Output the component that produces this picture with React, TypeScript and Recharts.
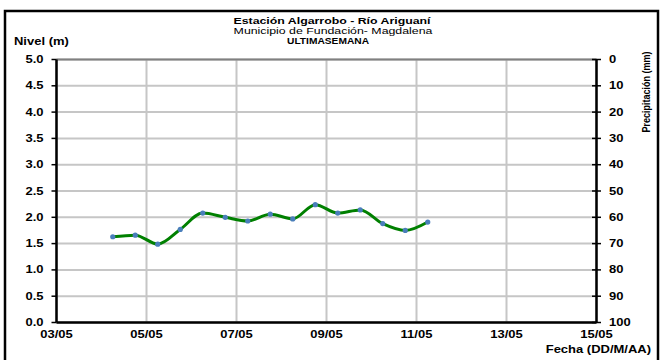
import { LineChart, Line, XAxis, YAxis, CartesianGrid, ReferenceLine } from "recharts";

// lecturas cada 12 horas (DD/MM HH:mm)
const fechas = [
  "04/05 06:00", "04/05 18:00", "05/05 06:00", "05/05 18:00", "06/05 06:00",
  "06/05 18:00", "07/05 06:00", "07/05 18:00", "08/05 06:00", "08/05 18:00",
  "09/05 06:00", "09/05 18:00", "10/05 06:00", "10/05 18:00", "11/05 06:00",
];
const nivel = [1.63, 1.66, 1.49, 1.77, 2.08, 2.0, 1.93, 2.06, 1.97, 2.24, 2.08, 2.14, 1.88, 1.75, 1.91];

const fechaTicks = ["03/05", "05/05", "07/05", "09/05", "11/05", "13/05", "15/05"];
const nivelTicks = [0, 0.5, 1, 1.5, 2, 2.5, 3, 3.5, 4, 4.5, 5];
const lluviaTicks = [0, 10, 20, 30, 40, 50, 60, 70, 80, 90, 100];

const FONT = "'Liberation Sans', Arial, sans-serif";
const SX = 1.3; // el grafico original esta estirado a lo ancho

const toDay = (s: string) => {
  const [d, hm] = [s.split("/")[0], s.split(" ")[1]];
  let v = parseInt(d, 10);
  if (hm) {
    const [h, m] = hm.split(":").map(Number);
    v += (h + m / 60) / 24;
  }
  return v;
};

const data = fechas.map((f, i) => ({ t: toDay(f), nivel: nivel[i] }));

const SText = ({ x, y, anchor = "middle", size = 10, bold = true, len, children }: any) => (
  <text
    transform={`translate(${x},${y}) scale(${SX},1)`}
    textAnchor={anchor}
    fontSize={size}
    fontWeight={bold ? 700 : 400}
    fontFamily={FONT}
    fill="#000"
    textLength={len}
    lengthAdjust={len ? "spacingAndGlyphs" : undefined}
  >
    {children}
  </text>
);

const LeftTick = ({ x, y, payload }: any) => (
  <SText x={x} y={y + 3.5} anchor="end">
    {Number(payload.value).toFixed(1)}
  </SText>
);

const RightTick = ({ x, y, payload }: any) => (
  <g>
    <line x1={x - 4.5} x2={x + 4.5} y1={y} y2={y} stroke="#000" strokeWidth={1.5} />
    <SText x={x + 12.5} y={y + 3.5} anchor="start">
      {payload.value}
    </SText>
  </g>
);

const BottomTick = ({ x, y, payload }: any) => (
  <SText x={x} y={y + 15}>
    {fechaTicks.find((f) => toDay(f) === payload.value)}
  </SText>
);

export default function App() {
  return (
    <div style={{ position: "absolute", left: 0, top: 0, width: 661, height: 360, background: "#fff" }}>
      <LineChart
        width={661}
        height={360}
        data={data}
        margin={{ top: 59.5, right: 0, bottom: 17.5, left: 0 }}
      >
        <CartesianGrid yAxisId="left" stroke="#c6c6c6" strokeWidth={2} />
        <XAxis
          dataKey="t"
          type="number"
          domain={[toDay(fechaTicks[0]), toDay(fechaTicks[fechaTicks.length - 1])]}
          ticks={fechaTicks.map(toDay)}
          height={20}
          tickLine={false}
          tickSize={0}
          tickMargin={0}
          axisLine={{ stroke: "#000", strokeWidth: 2.5 }}
          tick={<BottomTick />}
        />
        <YAxis
          yAxisId="left"
          domain={[0, 5]}
          ticks={nivelTicks}
          width={56.5}
          tickSize={5}
          tickMargin={8}
          tickLine={{ stroke: "#000", strokeWidth: 1.5 }}
          axisLine={{ stroke: "#000", strokeWidth: 2.5 }}
          tick={<LeftTick />}
        />
        <YAxis
          yAxisId="right"
          orientation="right"
          type="number"
          reversed
          allowDataOverflow
          domain={[0, 100]}
          ticks={lluviaTicks}
          interval={0}
          width={64.5}
          tickSize={0}
          tickMargin={0}
          tickLine={false}
          axisLine={{ stroke: "#000", strokeWidth: 2.5 }}
          tick={<RightTick />}
        />
        <ReferenceLine yAxisId="left" y={5} stroke="#808080" strokeWidth={2} />
        <Line
          yAxisId="left"
          dataKey="nivel"
          type="monotone"
          stroke="#008000"
          strokeWidth={3}
          dot={{ r: 2.6, fill: "#4a7ebb", stroke: "none" }}
          isAnimationActive={false}
        />
      </LineChart>
      <svg
        width={661}
        height={360}
        style={{ position: "absolute", left: 0, top: 0, pointerEvents: "none" }}
      >
        <rect x={5} y={11} width={653} height={360} fill="none" stroke="#000" strokeWidth={2.5} />
        <SText x={332} y={24} size={9.5}>Estación Algarrobo - Río Ariguaní</SText>
        <SText x={333} y={34} size={9.5} bold={false}>Municipio de Fundación- Magdalena</SText>
        <SText x={328} y={44} size={9.5} len={82 / SX}>ULTIMASEMANA</SText>
        <SText x={14} y={45} anchor="start">Nivel (m)</SText>
        <SText x={651} y={353} anchor="end">Fecha (DD/M/AA)</SText>
        <text
          transform={`translate(650,92) scale(${SX},1) rotate(-90)`}
          textAnchor="middle"
          fontSize={9}
          fontWeight={700}
          fontFamily={FONT}
          fill="#000"
        >
          Precipitación (mm)
        </text>
      </svg>
    </div>
  );
}
